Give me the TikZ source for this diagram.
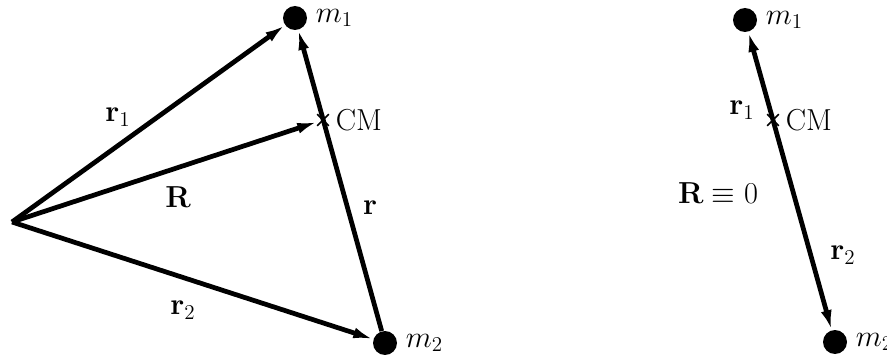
\documentclass[tikz,border=0pt]{standalone}
\usepackage{amsmath,amssymb}
\usepackage{tikz}
\usetikzlibrary{arrows.meta,positioning,shapes.misc}

\begin{document}
\begin{tikzpicture}[
  font=\LARGE,
  mass/.style={circle,fill=black,inner sep=0pt,minimum size=4.8mm},
  cmark/.style={cross out,draw=black,line width=0.9pt,inner sep=0pt,minimum size=2mm},
  vec/.style={-{Latex[length=4mm,width=2.2mm]},line width=2.7pt},
  lab/.style={inner sep=1pt}]
\useasboundingbox (0,0) rectangle (17.74,7.24);
% general frame
\coordinate (o) at (0.24,2.80);
\node[mass] (m1) at (5.90,6.88) {};
\node[mass] (m2) at (7.70,0.38) {};
\node[cmark] (cm) at (6.46,4.84) {};
\node[lab,right=1.3mm of m1] (lm1) {$m_1$};
\node[lab,right=1.3mm of m2] (lm2) {$m_2$};
\node[lab,right=1mm of cm] (lcm) {CM};
\draw[vec] (o) -- (m1);
\draw[vec] (o) -- (cm);
\draw[vec] (o) -- (m2);
\draw[vec] (m2) -- (m1);
\node[lab] (lr1) at (2.36,4.90) {$\mathbf{r}_1$};
\node[lab] (lR) at (3.56,3.30) {$\mathbf{R}$};
\node[lab] (lr) at (7.40,3.08) {$\mathbf{r}$};
\node[lab] (lr2) at (3.66,1.04) {$\mathbf{r}_2$};
% CM frame
\node[mass] (n1) at (14.90,6.84) {};
\node[mass] (n2) at (16.70,0.40) {};
\node[cmark] (cmb) at (15.46,4.84) {};
\node[lab,right=1.3mm of n1] (ln1) {$m_1$};
\node[lab,right=1.3mm of n2] (ln2) {$m_2$};
\node[lab,right=1mm of cmb] (lcmb) {CM};
\draw[vec] (cmb.center) -- (n1);
\draw[vec] (cmb.center) -- (n2);
\node[lab] (ls1) at (14.84,5.04) {$\mathbf{r}_1$};
\node[lab] (lR0) at (14.36,3.38) {$\mathbf{R}\equiv 0$};
\node[lab] (ls2) at (16.86,2.14) {$\mathbf{r}_2$};
\end{tikzpicture}
\end{document}
